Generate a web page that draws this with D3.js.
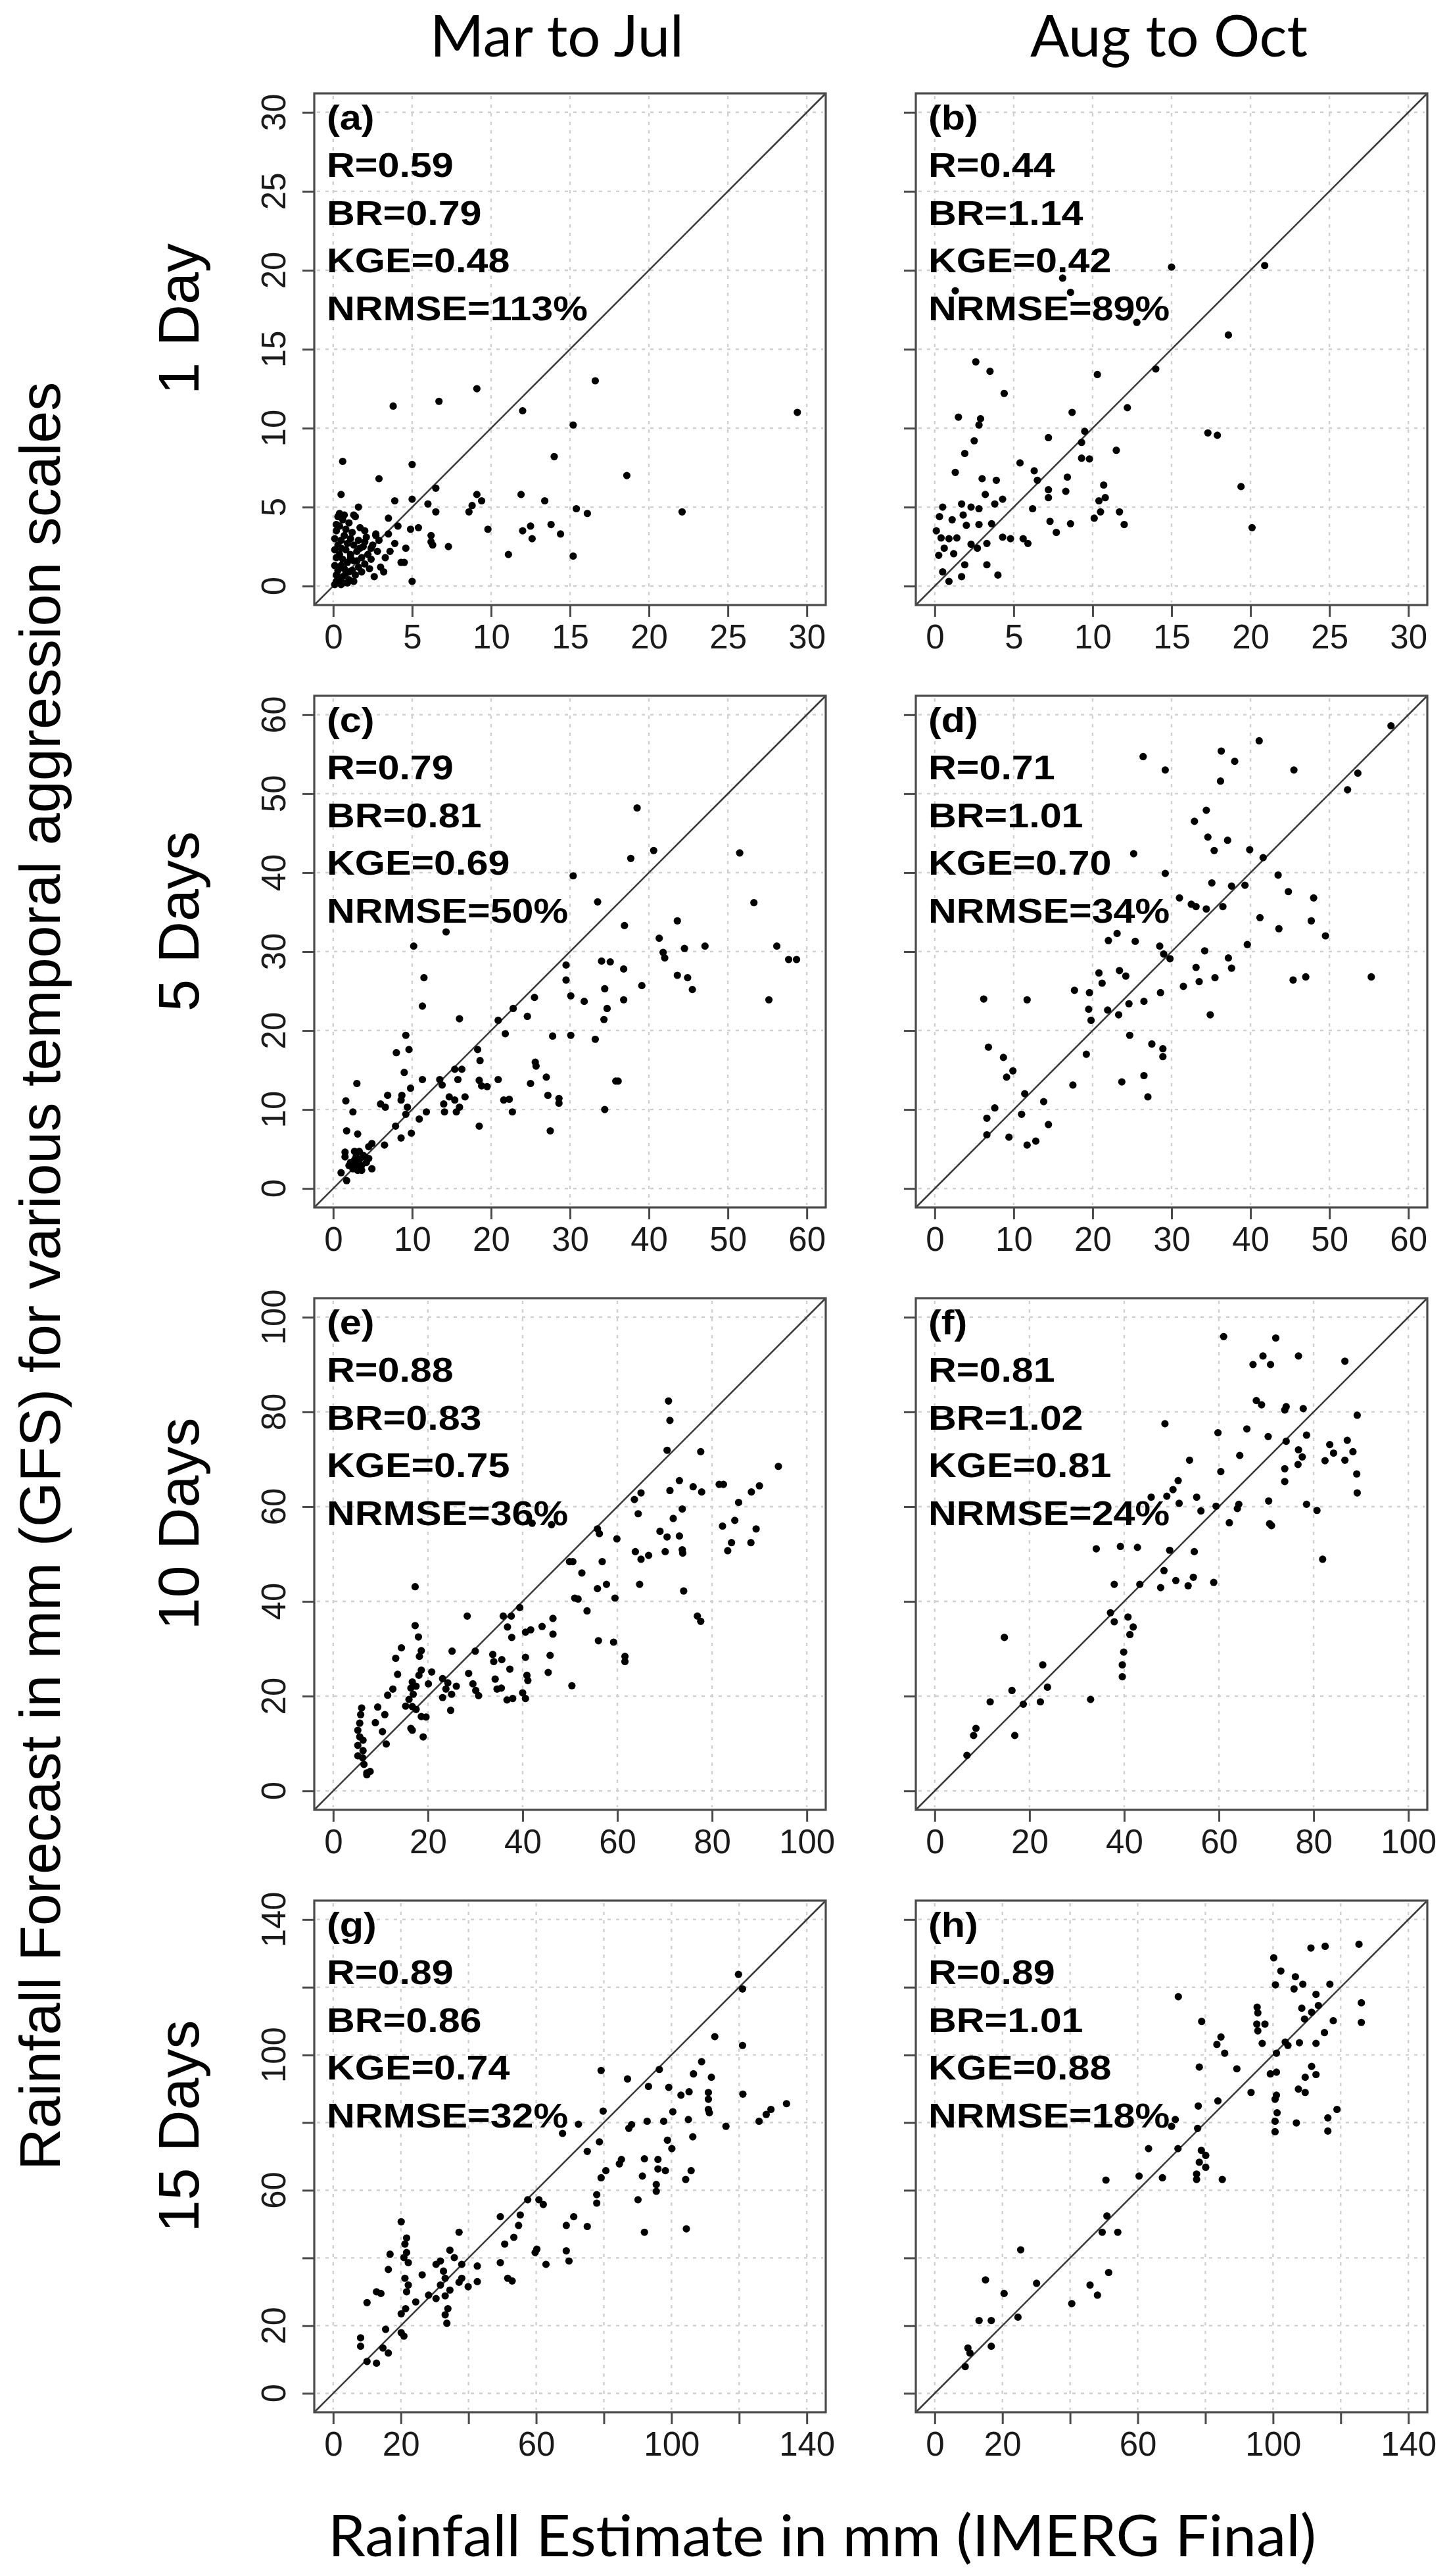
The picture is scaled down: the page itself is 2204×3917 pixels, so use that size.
<!DOCTYPE html>
<html><head><meta charset="utf-8">
<script src="https://cdn.jsdelivr.net/npm/d3@7"></script>
<style>body{margin:0;background:#fff}</style>
</head><body>
<svg id="chart" width="2204" height="3917" xmlns="http://www.w3.org/2000/svg"></svg>
<script>
// ---------------- DATA ----------------
const columnTitles = ["Mar to Jul", "Aug to Oct"];
const rowTitles = ["1 Day", "5 Days", "10 Days", "15 Days"];
const xAxisTitle = "Rainfall Estimate in mm (IMERG Final)";
const yAxisTitle = "Rainfall Forecast in mm (GFS) for various temporal aggression scales";
const panelLetters = ["(a)", "(b)", "(c)", "(d)", "(e)", "(f)", "(g)", "(h)"];
const statR = ["0.59", "0.44", "0.79", "0.71", "0.88", "0.81", "0.89", "0.89"];
const statBR = ["0.79", "1.14", "0.81", "1.01", "0.83", "1.02", "0.86", "1.01"];
const statKGE = ["0.48", "0.42", "0.69", "0.70", "0.75", "0.81", "0.74", "0.88"];
const statNRMSE = ["113%", "89%", "50%", "34%", "36%", "24%", "32%", "18%"];
const axisMax = [30, 60, 100, 140];
const ticksRow1 = [0, 5, 10, 15, 20, 25, 30];
const ticksRow2 = [0, 10, 20, 30, 40, 50, 60];
const ticksRow3 = [0, 20, 40, 60, 80, 100];
const ticksRow4 = [0, 20, 40, 60, 80, 100, 120, 140];
const labelsRow4 = [0, 20, 60, 100, 140];

const ptsA = [[29.4,11.0],[16.6,13.0],[9.1,12.5],[6.7,11.7],[3.8,11.4],[12.0,11.1],[15.2,10.2],[0.6,7.9],[5.0,7.7],[14.0,8.2],[2.9,6.8],[18.6,7.0],[0.5,5.8],[6.5,6.2],[9.1,5.8],[9.4,5.4],[8.8,5.1],[8.6,4.7],[11.9,5.8],[13.4,5.4],[15.4,4.9],[16.1,4.6],[22.1,4.7],[3.9,5.4],[5.0,5.5],[6.0,5.2],[6.5,4.7],[1.6,5.0],[1.3,4.5],[3.5,4.3],[4.1,3.8],[4.9,3.6],[5.4,3.7],[9.8,3.6],[12.0,3.5],[12.5,3.8],[13.8,3.9],[14.4,3.3],[12.6,3.0],[6.2,3.2],[6.2,2.8],[7.3,2.5],[11.1,2.0],[15.2,1.9],[2.0,3.5],[2.7,3.3],[3.5,3.3],[3.9,2.7],[4.6,2.4],[4.3,1.5],[4.5,1.5],[3.2,0.9],[3.6,2.2],[5.0,0.3],[6.3,2.6],
[0.2,0.3],[0.4,0.5],[0.6,0.2],[0.8,0.8],[1.0,0.4],[0.3,1.0],[0.5,1.3],[0.7,1.1],[0.9,1.5],[1.2,1.0],[1.4,0.7],[1.6,1.2],[0.2,1.8],[0.4,2.0],[0.6,1.7],[0.8,2.3],[1.1,2.0],[1.3,1.6],[1.5,2.2],[1.8,1.8],[2.0,1.4],[2.2,2.0],[2.4,1.7],[0.3,2.6],[0.5,2.9],[0.7,3.2],[0.9,2.7],[1.1,3.0],[1.3,2.6],[1.6,2.9],[1.9,2.5],[2.1,3.1],[2.5,2.6],[2.8,2.2],[0.2,3.5],[0.4,3.8],[0.6,4.2],[0.8,3.6],[1.0,4.0],[1.2,3.4],[1.4,4.4],[1.7,3.7],[0.3,4.4],[0.1,0.1],[0.2,0.7],[0.5,0.1],[1.0,0.9],[1.3,0.3],[0.9,0.2],[1.8,0.9],[2.3,1.1],[2.6,0.6],[0.1,1.3],[0.1,2.3],[0.1,3.0],[0.2,3.9],[0.6,0.6],[1.5,1.6],[1.7,2.4],[2.0,2.8],[2.7,3.2],[0.4,4.6],[0.7,4.5],[1.1,1.8],[0.5,2.4],[2.4,2.4],[3.0,1.2],[3.3,1.8],[2.9,2.9]];

const ptsB = [[15.0,20.2],[20.9,20.3],[8.1,19.5],[8.6,18.6],[1.3,18.7],[12.8,16.7],[18.6,15.9],[2.6,14.2],[3.5,13.6],[10.3,13.4],[14.0,13.75],[4.4,12.2],[12.2,11.3],[8.7,11.0],[1.5,10.7],[2.9,10.6],[2.8,10.2],[9.5,9.8],[17.3,9.7],[17.9,9.55],[7.2,9.4],[2.5,9.2],[9.3,9.1],[11.5,8.6],[1.9,8.4],[9.3,8.1],[9.8,8.05],[5.4,7.8],[1.3,7.2],[6.3,7.3],[6.5,6.7],[8.4,6.9],[3.0,6.8],[3.9,6.7],[10.7,6.4],[19.4,6.3],[7.2,6.1],[8.3,6.0],[7.2,5.6],[3.2,5.8],[4.3,5.5],[10.8,5.6],[10.4,5.4],[3.8,5.2],[1.7,5.2],[2.3,5.0],[2.8,4.9],[0.5,5.0],[6.2,4.9],[11.7,4.7],[10.5,4.7],[1.8,4.5],[0.3,4.4],[1.1,4.2],[2.0,3.85],[2.8,3.9],[3.6,3.95],[7.3,4.1],[10.1,4.3],[8.6,3.95],[12.0,3.9],[20.1,3.7],[7.7,3.4],[0.1,3.5],[0.4,3.05],[0.9,3.0],[1.4,3.05],[4.3,3.1],[4.8,3.0],[5.6,3.0],[5.9,2.7],[2.3,2.65],[2.7,2.4],[3.3,2.7],[0.6,2.4],[1.2,2.05],[0.25,1.95],[1.9,1.35],[3.3,1.35],[0.5,0.9],[1.7,0.6],[4.0,0.7],[0.9,0.3]];

const ptsC = [[38.5,48.2],[40.6,42.8],[37.7,41.8],[51.5,42.5],[30.4,39.6],[53.3,36.2],[33.5,36.3],[36.9,33.3],[43.6,33.9],[14.3,32.5],[41.3,31.7],[10.2,30.7],[47.1,30.7],[44.5,30.4],[56.2,30.7],[41.8,29.9],[42.0,29.2],[57.7,29.0],[58.7,29.0],[34.0,28.8],[35.1,28.7],[29.5,28.3],[36.8,27.8],[43.6,27.0],[44.9,26.7],[11.5,26.7],[29.5,26.4],[34.4,25.3],[39.1,25.7],[45.5,25.2],[30.1,24.4],[25.5,24.2],[31.8,23.7],[36.8,23.9],[55.2,23.9],[11.3,23.1],[34.7,22.8],[22.8,22.8],[24.6,21.8],[20.9,21.3],[34.3,21.4],[16.0,21.5],[21.8,19.6],[27.8,19.3],[30.1,19.4],[33.2,18.9],[9.2,19.4],[9.6,17.6],[8.0,17.2],[18.3,17.6],[18.6,16.2],[25.6,16.0],[25.7,15.5],[9.0,14.7],[15.4,15.1],[16.3,15.1],[27.0,14.1],[13.5,13.8],[3.0,13.3],[11.3,13.8],[18.5,13.7],[20.9,13.8],[25.0,13.3],[35.8,13.6],[36.1,13.6],[15.8,13.8],[13.8,13.1],[18.8,13.0],[19.5,12.9],
[34.4,10.0],[27.5,7.3],[28.6,11.4],[28.6,10.8],[27.2,11.8],[21.6,11.2],[22.3,11.3],[22.7,9.7],[18.5,7.9],[16.7,11.6],[15.4,11.2],[14.7,11.6],[15.6,9.7],[16.0,10.3],[14.0,10.7],[14.1,9.7],[11.8,9.7],[10.9,8.8],[9.8,12.7],[8.7,11.8],[8.6,11.2],[9.4,10.3],[9.2,9.4],[7.9,7.9],[8.6,6.4],[9.9,7.0],[6.6,10.3],[6.9,11.8],[6.5,5.5],[6.0,10.7],[1.6,11.1],[1.7,7.3],[3.1,6.9],[2.5,9.7],[4.9,5.7],[4.5,5.3],[4.9,2.5],[1.0,2.0],[1.7,1.0],
[1.5,4.6],[1.5,4.0],[2.7,4.7],[2.9,4.0],[3.3,3.6],[3.8,4.2],[2.2,3.3],[2.9,2.9],[3.6,2.9],[4.2,3.3],[4.0,4.0],[2.5,2.5],[3.1,2.3],[2.0,2.9],[4.5,3.8],[3.3,4.7],[2.7,3.6],[3.6,2.3]];

const ptsD = [[57.8,58.6],[41.1,56.7],[36.3,55.4],[38.0,54.1],[26.4,54.7],[29.2,53.0],[45.5,53.0],[53.6,52.6],[36.2,51.6],[52.3,50.5],[34.4,47.9],[32.9,46.5],[34.6,44.5],[37.1,44.1],[35.4,42.8],[39.9,42.9],[41.6,41.9],[25.2,42.4],[29.2,39.9],[43.5,39.7],[35.1,38.7],[37.6,38.3],[39.3,38.4],[44.8,37.6],[48.0,36.8],[31.0,36.8],[32.5,36.0],[33.1,35.7],[34.4,35.4],[36.5,35.7],[41.2,34.3],[47.7,33.9],[43.6,32.9],[49.5,32.0],[23.1,32.3],[22.0,31.4],[25.4,31.3],[28.5,30.7],[39.6,30.9],[34.2,30.1],[29.0,29.7],[29.8,29.1],[37.2,29.2],[33.1,28.0],[37.6,27.9],[20.8,27.3],[23.4,27.6],[24.2,26.9],[35.5,26.7],[33.5,26.2],[21.2,26.0],[31.5,25.6],[45.4,26.4],[47.0,26.8],[55.3,26.8],[17.7,25.1],[19.6,24.8],[28.6,24.8],[6.2,24.0],[11.7,23.9],[26.5,23.7],[24.6,23.4],[19.5,22.7],[21.9,22.6],[23.3,22.0],[34.9,22.0],[19.8,21.3],[24.7,19.4],[6.8,17.9],[8.7,16.6],[19.2,17.0],[27.5,18.3],[28.9,17.7],[28.9,16.7],[9.9,14.9],[9.1,14.1],[26.5,14.3],[23.7,13.5],[17.5,13.1],
[27.0,11.6],[11.4,12.0],[13.8,11.0],[7.6,10.2],[6.6,8.9],[11.0,9.4],[14.4,8.1],[6.6,6.8],[9.4,6.5],[12.8,6.0],[11.7,5.5]];

const ptsE = [[70.8,82.3],[71.1,78.2],[70.5,71.9],[77.6,71.6],[94.0,68.5],[73.1,65.5],[81.5,64.7],[82.4,64.7],[90.0,64.4],[76.0,64.2],[77.8,63.1],[71.1,63.4],[88.3,63.1],[65.0,62.9],[63.6,61.5],[85.6,60.9],[73.7,59.5],[64.4,58.5],[71.8,57.5],[82.2,55.9],[84.8,57.1],[89.3,55.3],[55.8,55.3],[56.2,54.3],[69.0,54.8],[70.5,53.6],[73.1,53.8],[59.9,53.2],[84.1,52.4],[88.2,52.4],[83.3,50.7],[63.8,50.5],[70.1,50.5],[73.7,50.9],[73.8,50.2],[65.0,48.9],[66.6,49.7],[49.9,48.4],[50.6,48.4],[56.8,48.4],[52.5,46.0],[64.7,43.6],[74.0,42.2],[55.8,42.7],[57.7,43.6],[17.3,43.1],[42.0,56.5],[46.1,56.2],
[51.0,40.7],[51.7,40.5],[59.5,40.7],[53.6,38.0],[76.9,36.9],[77.6,35.8],[56.0,31.7],[59.2,31.4],[61.6,28.4],[61.6,27.3],[50.4,22.2],[46.4,36.4],[46.4,33.1],[44.1,34.7],[45.8,28.6],[45.4,25.0],[41.7,34.0],[40.6,33.5],[39.4,38.7],[37.6,36.9],[35.9,36.9],[36.8,34.6],[37.7,32.4],[37.3,25.7],[40.6,28.2],[40.9,24.4],[41.1,23.3],[40.0,20.7],[40.6,19.5],[37.9,19.5],[36.7,19.2],[35.6,27.7],[33.7,28.8],[33.9,27.3],[34.2,23.6],[34.6,21.5],[35.5,21.7],[28.3,36.9],[28.6,24.8],[29.5,22.6],[30.1,21.2],[30.7,20.1],[30.0,29.5],[25.1,29.5],[23.1,23.7],[24.2,22.8],[23.8,21.5],[23.1,19.7],[25.0,20.4],[26.0,22.1],[24.8,17.0],[20.8,25.1],[20.1,22.6],[19.6,15.6],[19.0,11.4],[17.3,34.9],[18.0,32.5],[18.6,29.6],[18.2,28.4],[18.6,25.5],[18.1,24.4],[16.7,23.0],[17.5,22.1],[16.4,21.7],[16.9,20.4],[16.0,19.3],[15.3,17.9],[16.7,17.8],[17.5,17.2],[16.4,13.2],[16.7,12.8],[18.6,15.7],[14.4,30.2],[13.2,28.0],[13.6,24.6],[12.6,21.5],[11.5,20.2],[9.4,17.7],[8.9,14.4],[10.4,12.5],[10.9,16.1],[11.2,9.9],[6.0,17.5],[5.8,16.1],[5.6,14.3],[5.2,12.8],[5.6,11.4],[6.3,10.7],[5.2,9.6],[6.3,8.5],[5.2,7.4],[6.2,7.0],[6.5,5.6],[7.1,3.8],[7.8,4.1],[7.1,3.4]];

const ptsF = [[61.0,95.9],[72.0,95.6],[69.3,91.8],[67.2,90.0],[70.9,90.0],[76.8,91.8],[86.6,90.7],[67.9,82.4],[69.0,81.5],[74.2,81.1],[73.9,80.4],[77.8,80.7],[89.2,79.3],[48.6,77.5],[59.8,75.6],[65.9,76.4],[70.4,74.8],[74.2,73.8],[78.5,75.1],[83.4,73.1],[87.1,74.0],[76.8,72.0],[77.6,70.5],[64.4,70.8],[84.2,71.3],[88.3,71.6],[82.4,69.7],[86.6,69.8],[76.7,68.9],[73.9,68.0],[89.1,66.9],[53.8,69.8],[60.4,67.4],[73.9,65.3],[51.4,65.5],[50.3,63.6],[45.7,62.0],[49.0,62.2],[51.6,60.7],[55.3,62.0],[56.2,59.1],[59.4,60.1],[64.2,60.5],[63.9,59.6],[70.5,61.2],[78.5,60.5],[80.7,59.2],[89.2,62.9],[62.2,56.6],[70.7,56.4],[71.1,56.0],[81.9,48.9],[34.1,51.1],[39.2,51.6],[42.8,51.4],[49.6,50.8],[54.8,50.5],[48.4,46.5],[50.9,44.4],[54.6,45.1],[47.7,42.9],[53.5,43.3],[58.9,44.0],[37.9,43.6],[43.3,43.6],
[37.1,37.6],[37.9,35.7],[40.8,36.7],[41.9,34.6],[41.2,33.0],[39.9,29.3],[39.6,26.6],[39.6,24.1],[14.7,32.4],[22.8,26.6],[23.8,21.9],[16.3,21.2],[11.7,18.8],[18.7,18.3],[22.3,18.8],[32.9,19.3],[8.7,13.2],[8.2,11.7],[16.9,11.7],[6.8,7.5]];

const ptsG = [[119.8,123.8],[121.0,119.5],[112.8,105.4],[121.0,102.8],[79.2,95.4],[87.0,92.9],[96.4,95.7],[108.9,98.0],[106.5,94.4],[111.8,93.4],[93.2,90.7],[99.2,90.4],[105.2,89.1],[102.8,88.1],[110.9,88.9],[121.1,88.4],
[110.9,86.9],[134.0,85.6],[129.4,83.9],[128.0,82.4],[125.9,80.4],[116.1,78.9],[110.9,83.9],[111.2,82.9],[100.4,83.2],[105.0,80.9],[106.3,75.8],[98.8,74.8],[100.1,72.3],[97.7,80.4],[92.8,80.4],[88.2,79.4],[87.4,78.3],[79.8,83.4],[78.7,74.3],[67.8,76.8],[72.5,79.5],[75.1,71.5],[79.2,63.7],[80.6,65.8],[84.6,67.8],[85.2,69.1],[92.0,69.3],[96.0,69.1],[96.0,66.3],[91.4,64.2],[98.2,65.8],[95.5,61.7],[95.5,59.7],[104.2,63.2],[105.8,65.8],[90.1,57.2],[92.0,47.6],[104.4,48.6],[77.9,58.7],[77.9,56.2],[75.1,49.3],[68.9,49.6],[71.1,52.2],[62.1,55.8],[60.8,57.2],[57.5,57.2],[55.3,52.7],[54.8,49.6],[49.4,52.2],[53.4,46.1],[50.7,44.1],[60.2,42.6],[59.7,41.6],[62.9,38.1],[69.7,39.1],[68.9,42.1],[49.4,38.6],[51.6,34.0],[52.9,33.2],[37.2,47.6],[34.5,42.3],[35.8,40.1],[38.0,38.1],[38.0,34.0],[37.2,32.8],[42.6,37.6],[42.6,33.0],[39.9,31.5],[31.7,39.1],[30.4,38.1],[32.6,36.1],[33.1,34.0],[31.7,32.0],[34.5,30.5],[33.1,28.8],[30.4,28.0],[33.9,25.0],[33.1,23.2],[33.6,20.7],[26.3,35.0],[28.2,29.0],[24.4,27.0],[21.4,25.0],[20.1,23.5],[21.7,30.0],[22.2,32.0],[21.2,34.0],[20.9,40.1],[21.2,44.1],[21.7,45.9],[20.1,50.7],[21.7,41.6],[22.2,38.6],[16.8,41.1],[16.3,36.6],[14.1,29.5],[12.8,30.0],[10.0,26.8],[15.5,18.9],[14.7,13.4],[16.3,11.9],[12.8,8.9],[10.0,9.4],[8.1,16.4],[8.1,13.9],[20.9,16.9],[20.1,17.9]];

const ptsH = [[125.4,132.7],[111.2,131.6],[115.4,132.1],[100.2,128.7],[102.3,124.8],[106.6,123.1],[108.8,120.9],[106.2,119.5],[100.7,120.7],[116.8,120.9],[112.7,117.9],[126.1,115.4],[108.5,113.8],[113.4,114.6],[95.3,114.1],[95.5,112.4],[111.4,112.6],[109.3,110.6],[117.8,110.1],[126.1,109.6],[95.2,109.1],[97.6,109.1],[95.5,107.1],[115.2,106.6],[72.0,117.2],[78.9,109.9],[84.6,105.3],[83.4,103.1],[85.7,100.5],[96.8,103.4],[103.6,103.8],[104.4,102.8],[107.8,103.6],[112.7,103.4],[101.0,100.5],[78.2,96.4],[89.3,95.9],[99.2,94.4],[101.0,94.9],[111.4,96.6],[109.5,93.4],[112.7,94.2],[93.5,88.9],[101.0,88.1],[107.5,89.9],[109.5,88.9],
[100.6,86.9],[101.2,82.9],[100.6,80.4],[100.6,77.3],[106.9,79.9],[116.2,81.4],[118.9,83.9],[116.2,77.5],[77.9,84.9],[83.7,86.4],[71.1,80.9],[70.0,78.9],[77.7,78.3],[71.9,72.3],[63.2,72.3],[78.8,71.8],[80.1,70.3],[78.2,68.3],[80.1,66.8],[77.4,64.8],[77.4,63.2],[85.0,63.2],[67.3,63.7],[60.4,64.2],[50.6,63.0],[50.9,52.4],[49.5,47.6],[54.1,47.6],[25.4,42.4],[51.4,35.7],[45.9,32.0],[48.1,29.0],[40.5,26.5],[30.1,32.5],[15.0,33.5],[20.5,29.5],[24.6,22.5],[13.1,21.5],[16.7,21.5],[16.7,13.9],[9.8,13.4],[10.4,11.9],[9.0,7.9]];

const panelPoints = [ptsA, ptsB, ptsC, ptsD, ptsE, ptsF, ptsG, ptsH];
const rowTicks = [ticksRow1, ticksRow2, ticksRow3, ticksRow4];
const rowLabels = [ticksRow1, ticksRow2, ticksRow3, labelsRow4];

// ---------------- LAYOUT ----------------
const size = 778;
const colLeft = [478, 1393];
const rowTop = [142, 1058, 1974, 2890];
const numFont = "'Liberation Sans', Arial, Helvetica, sans-serif";
const titleFont = "Lato, 'Open Sans', sans-serif";

const svg = d3.select("#chart");
svg.append("rect").attr("width", 2204).attr("height", 3917).attr("fill", "#fff");

for (let r = 0; r < 4; r++) {
  for (let c = 0; c < 2; c++) {
    const i = r * 2 + c;
    const M = axisMax[r];
    const left = colLeft[c], top = rowTop[r];
    const x = d3.scaleLinear().domain([-0.04 * M, 1.04 * M]).range([left, left + size]);
    const y = d3.scaleLinear().domain([-0.04 * M, 1.04 * M]).range([top + size, top]);
    const g = svg.append("g");
    const ticks = rowTicks[r];
    const labSet = new Set(rowLabels[r]);

    // grid
    const grid = g.append("g").attr("stroke", "#d0d0d0").attr("stroke-width", 2.4)
      .attr("stroke-dasharray", "5,8");
    ticks.forEach(v => {
      grid.append("line").attr("x1", x(v)).attr("x2", x(v)).attr("y1", top + 4).attr("y2", top + size - 4);
      grid.append("line").attr("y1", y(v)).attr("y2", y(v)).attr("x1", left + 4).attr("x2", left + size - 4);
    });

    // 1:1 line
    g.append("line")
      .attr("x1", x(-0.04 * M)).attr("y1", y(-0.04 * M))
      .attr("x2", x(1.04 * M)).attr("y2", y(1.04 * M))
      .attr("stroke", "#3a3a3a").attr("stroke-width", 2.6);

    // stats text
    const tg = g.append("g").attr("transform", `translate(${left + 19},${top + 55}) scale(1.14,1)`)
      .attr("font-family", numFont).attr("font-weight", "bold").attr("font-size", 52).attr("fill", "#000");
    const lines = [panelLetters[i], "R=" + statR[i], "BR=" + statBR[i], "KGE=" + statKGE[i], "NRMSE=" + statNRMSE[i]];
    lines.forEach((t, k) => tg.append("text").attr("x", 0).attr("y", k * 72.5).text(t));

    // points
    g.append("g").selectAll("circle").data(panelPoints[i]).join("circle")
      .attr("cx", d => x(d[0])).attr("cy", d => y(d[1])).attr("r", 5.6).attr("fill", "#000");

    // box
    g.append("rect").attr("x", left).attr("y", top).attr("width", size).attr("height", size)
      .attr("fill", "none").attr("stroke", "#4a4a4a").attr("stroke-width", 3.2);

    // x axis
    const xa = g.append("g").attr("transform", `translate(0,${top + size})`)
      .call(d3.axisBottom(x).tickValues(ticks).tickSize(18).tickPadding(12)
        .tickFormat(d => labSet.has(d) ? String(d) : ""));
    xa.select(".domain").remove();
    xa.selectAll("line").attr("stroke", "#4a4a4a").attr("stroke-width", 3);
    xa.selectAll("text").attr("font-family", numFont).attr("font-size", 51).attr("fill", "#1a1a1a");

    // y axis
    const ya = g.append("g").attr("transform", `translate(${left},0)`)
      .call(d3.axisLeft(y).tickValues(ticks).tickSize(18).tickFormat(""));
    ya.select(".domain").remove();
    ya.selectAll("line").attr("stroke", "#4a4a4a").attr("stroke-width", 3);
    if (c === 0) {
      ticks.filter(v => labSet.has(v)).forEach(v => {
        g.append("text").attr("transform", `translate(${left - 44},${y(v)}) rotate(-90)`)
          .attr("text-anchor", "middle").attr("font-family", numFont).attr("font-size", 51)
          .attr("fill", "#1a1a1a").text(String(v));
      });
    }
  }
  // row label
  svg.append("text").attr("transform", `translate(302,${rowTop[r] + size / 2 - 46}) rotate(-90)`)
    .attr("text-anchor", "middle").attr("font-family", numFont).attr("font-size", 88)
    .attr("fill", "#000").text(rowTitles[r]);
}

// column titles
const colCenters = [847, 1778];
const colWidths = [386, 422];
columnTitles.forEach((t, c) => {
  svg.append("text").attr("x", colCenters[c]).attr("y", 86).attr("text-anchor", "middle")
    .attr("font-family", titleFont).attr("font-size", 88).attr("fill", "#000")
    .attr("textLength", colWidths[c]).attr("lengthAdjust", "spacingAndGlyphs").text(t);
});

// x axis title
svg.append("text").attr("x", 499).attr("y", 3887).attr("font-family", titleFont).attr("font-size", 88)
  .attr("fill", "#000").attr("textLength", 1503).attr("lengthAdjust", "spacingAndGlyphs").text(xAxisTitle);

// y axis title
svg.append("text").attr("transform", "translate(91,3300) rotate(-90)")
  .attr("font-family", numFont).attr("font-size", 88).attr("fill", "#000").text(yAxisTitle);
</script>
</body></html>
